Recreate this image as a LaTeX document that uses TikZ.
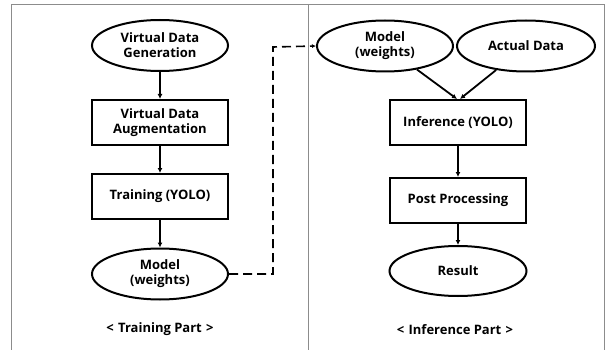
\documentclass[tikz,border=0pt]{standalone}
\usepackage{fontspec}
\setmainfont{Open Sans}
\usetikzlibrary{shapes.geometric,arrows.meta}
\begin{document}
\begin{tikzpicture}[x=1pt,y=-1pt,
  every node/.style={font=\bfseries\fontsize{13}{15}\selectfont,align=center,inner sep=0pt},
  ell/.style={draw,ellipse,line width=2pt,minimum width=136pt,minimum height=51pt},
  box/.style={draw,rectangle,line width=2pt,minimum width=136pt,minimum height=45pt},
  arr/.style={line width=1.8pt,-{Latex[length=5pt,width=5pt]}},
  frame/.style={draw=gray!90,line width=1pt}]
\useasboundingbox (0,0) rectangle (605,350);
\coordinate (tl) at (11,5);
\coordinate (bl) at (11,350);
\coordinate (tr) at (604,5);
\coordinate (br) at (604,350);
\coordinate (dt) at (308,5);
\coordinate (db) at (308,350);
\draw[frame] (bl) -- (tl) -- (tr) -- (br);
\draw[frame] (dt) -- (db);
% left
\node[ell] (gen) at (160,45.5) {Virtual Data\\Generation};
\node[box] (aug) at (160,122.5) {Virtual Data\\Augmentation};
\node[box] (train) at (160,196.5) {Training (YOLO)};
\node[ell] (model1) at (160,274) {Model\\(weights)};
\node (tp) at (160,329) {<\,\,Training Part\,\,>};
% right
\node[ell] (model2) at (385,46) {Model\\(weights)};
\node[ell,minimum width=138pt] (act) at (526,46) {Actual Data};
\node[box] (inf) at (458,122.5) {Inference (YOLO)};
\node[box] (post) at (458,200.5) {Post Processing};
\node[ell,minimum width=137pt,minimum height=50pt] (res) at (458,271) {Result};
\node (ip) at (455,330) {<\,\,Inference Part\,\,>};
% arrows
\draw[arr] (gen) -- (aug);
\draw[arr] (aug) -- (train);
\draw[arr] (train) -- (model1);
\draw[arr] (model2) -- ([xshift=-1pt]inf.north);
\draw[arr] (act) -- ([xshift=2pt]inf.north);
\draw[arr] (inf) -- (post);
\draw[arr] (post) -- (res);
\coordinate (c1) at (273,274);
\coordinate (c2) at (273,47);
\draw[line width=1.6pt,dash pattern=on 9pt off 5pt,-{Latex[length=4pt,width=4pt]}] (model1.east) -- (c1) -- (c2) -- (model2.west);
\end{tikzpicture}
\end{document}
